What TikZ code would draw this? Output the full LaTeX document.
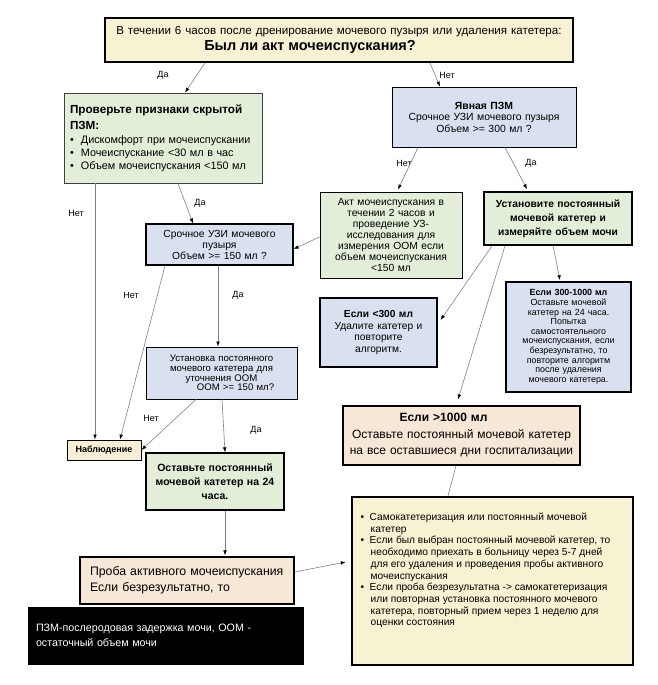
\documentclass[tikz,border=0pt]{standalone}
\usepackage{fontspec}
\setmainfont{Liberation Sans}
\usetikzlibrary{arrows.meta}
\definecolor{topy}{HTML}{F6F2D2}
\definecolor{boxgreen}{HTML}{E2EED8}
\definecolor{boxblue}{HTML}{D9E1F1}
\definecolor{boxtan}{HTML}{F7E7D6}
\definecolor{boxcream}{HTML}{F6EFD6}
\begin{document}
\begin{tikzpicture}[x=1pt, y=-1pt, thick,
	box/.style = {draw, line width=0.9pt, inner sep=2pt, align=center},
	bluebox/.style = {box, fill=boxblue},
	greenbox/.style = {box, fill=boxgreen},
	tanbox/.style = {box, fill=boxtan},
	arr/.style = {draw=gray, line width=0.6pt, -{Latex[length=5pt,width=3.6pt,color=black]}},
	lbl/.style = {font=\fontsize{9}{11}\selectfont}]

	\useasboundingbox (0,0) rectangle (657,685);

	\node[box, fill=topy, line width=2pt, text width=462pt, minimum width=468pt, minimum height=44pt, font=\fontsize{11.6}{15.5}\selectfont] (q) at (339,40) {В течении 6 часов после дренирование мочевого пузыря или удаления катетера:\\{\fontsize{14.5}{16}\selectfont\bfseries Был ли акт мочеиспускания?}\hspace*{58pt}\mbox{}};

	\node[greenbox, draw=black!75, align=left, text width=186pt, minimum width=198pt, minimum height=90pt, font=\fontsize{10.8}{13}\selectfont] (check) at (163,138) {{\fontsize{11.7}{14}\selectfont\bfseries Проверьте признаки скрытой}\\[3pt]{\fontsize{11.7}{14}\selectfont\bfseries ПЗМ:}\\[1pt]
		\textbullet\ \ Дискомфорт при мочеиспускании\\
		\textbullet\ \ Мочеиспускание <30 мл в час\\
		\textbullet\ \ Объем мочеиспускания <150 мл};

	\node[bluebox, text width=180pt, minimum width=184pt, minimum height=60pt, font=\fontsize{10.4}{11.5}\selectfont] (yavn) at (484,117) {{\bfseries Явная ПЗМ}\\Срочное УЗИ мочевого пузыря\\Объем >= 300 мл ?};

	\node[greenbox, text width=138pt, minimum width=142pt, minimum height=86pt, font=\fontsize{10.3}{11}\selectfont] (akt) at (391,235) {Акт мочеиспускания в\\течении 2 часов и\\проведение УЗ-\\исследования для\\измерения ООМ если\\объем мочеиспускания\\<150 мл};

	\node[greenbox, line width=1.6pt, text width=144pt, minimum width=148pt, minimum height=53pt, font=\fontsize{10.3}{14}\selectfont\bfseries] (ustanov) at (558,218.5) {Установите постоянный\\мочевой катетер и\\измеряйте объем мочи};

	\node[bluebox, line width=1.2pt, text width=143pt, minimum width=147pt, minimum height=41pt, font=\fontsize{10.3}{11}\selectfont] (uzi) at (219.5,244.5) {Срочное УЗИ мочевого\\пузыря\\Объем >= 150 мл ?};

	\node[bluebox, line width=1.2pt, text width=113pt, minimum width=117pt, minimum height=69pt, font=\fontsize{10.2}{11.5}\selectfont] (less) at (378.5,332.5) {{\bfseries Если <300 мл}\\Удалите катетер и\\повторите\\алгоритм.};

	\node[bluebox, line width=1.6pt, text width=121pt, minimum width=125pt, minimum height=110pt, font=\fontsize{8.9}{9.6}\selectfont] (mid) at (568.5,337) {{\bfseries Если 300-1000 мл}\\Оставьте мочевой\\катетер на 24 часа.\\Попытка\\самостоятельного\\мочеиспускания, если\\безрезультатно, то\\повторите алгоритм\\после удаления\\мочевого катетера.};

	\node[bluebox, text width=147pt, minimum width=151pt, minimum height=52pt, font=\fontsize{9.6}{9.8}\selectfont] (kat) at (221.5,373) {Установка постоянного\\мочевого катетера для\\уточнения ООМ\\\hspace*{28pt}ООМ >= 150 мл?};

	\node[box, fill=boxcream, minimum width=74pt, minimum height=20pt, font=\fontsize{9}{10}\selectfont\bfseries] (nabl) at (104,450) {Наблюдение};

	\node[greenbox, line width=1.2pt, text width=134pt, minimum width=138pt, minimum height=57pt, font=\fontsize{10.5}{14}\selectfont\bfseries] (ost) at (215,481.5) {Оставьте постоянный\\мочевой катетер на 24\\часа.};

	\node[tanbox, line width=1.2pt, text width=233pt, minimum width=237pt, minimum height=59pt, font=\fontsize{12}{16.5}\selectfont] (more) at (461.5,435.5) {{\bfseries Если >1000 мл}\hspace*{36pt}\mbox{}\\Оставьте постоянный мочевой катетер\\на все оставшиеся дни госпитализации};

	\node[box, fill=topy, line width=2.5pt, inner sep=0pt, minimum width=281pt, minimum height=168pt, font=\fontsize{10.2}{11.7}\selectfont] (rec) at (492.5,581) {\begin{minipage}[c][136pt][t]{264pt}\raggedright
		\textbullet\ \ Самокатетеризация или постоянный мочевой\\
		\hspace*{1em}катетер\\
		\textbullet\ \ Если был выбран постоянный мочевой катетер, то\\
		\hspace*{1em}необходимо приехать в больницу через 5-7 дней\\
		\hspace*{1em}для его удаления и проведения пробы активного\\
		\hspace*{1em}мочеиспускания\\
		\textbullet\ \ Если проба безрезультатна -> самокатетеризация\\
		\hspace*{1em}или повторная установка постоянного мочевого\\
		\hspace*{1em}катетера, повторный прием через 1 неделю для\\
		\hspace*{1em}оценки состояния
	\end{minipage}};

	\node[tanbox, line width=1.2pt, align=left, text width=194pt, minimum width=214pt, minimum height=47pt, font=\fontsize{12.3}{16}\selectfont] (proba) at (187,580.5) {\mbox{Проба активного мочеиспускания}\\Если безрезультатно, то};

	\node[box, fill=black, text=white, align=left, text width=259pt, minimum width=275pt, minimum height=57pt, font=\fontsize{10.7}{15}\selectfont] (legend) at (165.5,635.5) {ПЗМ-послеродовая задержка мочи, ООМ -\\остаточный объем мочи};

	\node[lbl] (l1) at (163,75) {Да};
	\node[lbl] (l2) at (447,75) {Нет};
	\node[lbl] (l3) at (404,163) {Нет};
	\node[lbl] (l4) at (531,163) {Да};
	\node[lbl] (l5) at (200,203) {Да};
	\node[lbl] (l6) at (76,213) {Нет};
	\node[lbl] (l7) at (131,295) {Нет};
	\node[lbl] (l8) at (238,295) {Да};
	\node[lbl] (l9) at (151,418) {Нет};
	\node[lbl] (l10) at (256,430) {Да};

	\draw[arr] ([xshift=-134pt]q.south) -- ([xshift=22pt]check.north);
	\draw[arr] ([xshift=91pt]q.south) -- ([xshift=-44pt]yavn.north);
	\draw[arr] ([xshift=-66pt]yavn.south) -- ([xshift=7pt,yshift=2pt]akt.north);
	\draw[arr] ([xshift=21pt]yavn.south) -- ([xshift=-31pt,yshift=2pt]ustanov.north);
	\draw[arr] ([xshift=15pt]check.south) -- ([xshift=-26.5pt]uzi.north);
	\draw[arr] ([xshift=-68pt]check.south) -- ([xshift=-9pt]nabl.north);
	\draw[arr] ([yshift=-2pt]akt.west) -- ([yshift=-4.5pt]uzi.east);
	\draw[arr] ([xshift=-54.5pt]uzi.south) -- ([xshift=16pt]nabl.north);
	\draw[arr] ([xshift=-1.5pt]uzi.south) -- ([xshift=-3.5pt]kat.north);
	\draw[arr] ([xshift=-25.5pt]kat.south) -- (nabl.east);
	\draw[arr] ([xshift=0.5pt]kat.south) -- ([xshift=10pt]ost.north);
	\draw[arr] ([xshift=-66pt]ustanov.south) -- ([xshift=3pt,yshift=12.5pt]less.east);
	\draw[arr] ([xshift=-53pt]ustanov.south) -- ([xshift=-3.5pt,yshift=6pt]more.north);
	\draw[arr] ([xshift=-5pt]ustanov.south) -- ([xshift=-8.5pt,yshift=1pt]mid.north);
	\draw[draw=gray, line width=0.6pt] ([xshift=-5.5pt]more.south) -- ([xshift=-44.5pt]rec.north);
	\draw[arr] ([xshift=10pt]ost.south) -- ([xshift=38pt,yshift=1pt]proba.north);
	\draw[arr] ([yshift=8.5pt]proba.east) -- ([xshift=-5pt,yshift=19pt]rec.west);

\end{tikzpicture}
\end{document}
